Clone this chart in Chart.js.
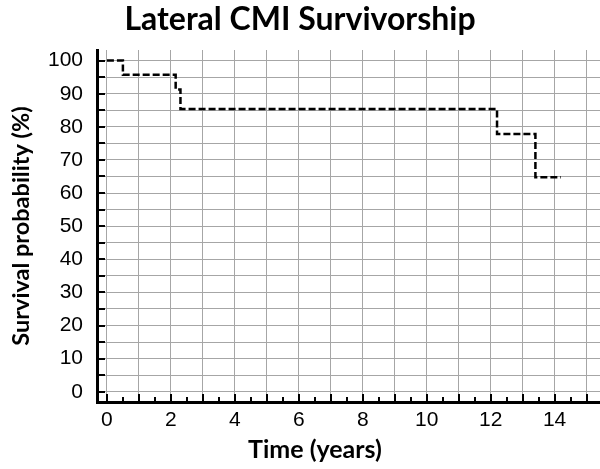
<!DOCTYPE html>
<html>
<head>
<meta charset="utf-8">
<script src="https://cdn.jsdelivr.net/npm/chart.js@4"></script>
<style>
    html, body { margin: 0; padding: 0; background: #fff; }
    #wrap { width: 600px; height: 469px; }
</style>
</head>
<body>
<div id="wrap"><canvas id="kmChart"></canvas></div>
<script>
// Datos
const timeYears = [0, 0.5, 2.15, 2.3, 12.2, 13.4, 14.2];
const survival  = [100, 95.7, 91.3, 85.4, 77.8, 64.8, 64.8];
const xTicks = [0, 1, 2, 3, 4, 5, 6, 7, 8, 9, 10, 11, 12, 13, 14, 15];
const yTicks = [0, 5, 10, 15, 20, 25, 30, 35, 40, 45, 50, 55, 60, 65, 70, 75, 80, 85, 90, 95, 100];

const labelFont = { family: "'Liberation Sans', Arial, sans-serif", size: 21 };
const boldFont = "'Lato', 'Open Sans', sans-serif";

// Marcas hacia dentro y titulos de ejes
const axisExtras = {
    id: 'axisExtras',
    afterDraw(chart) {
        const { ctx, chartArea, scales } = chart;
        const x = scales.x, y = scales.y;
        ctx.save();
        ctx.strokeStyle = '#000';
        ctx.lineWidth = 2;
        ctx.beginPath();
        yTicks.forEach(v => {
            const py = Math.round(y.getPixelForValue(v));
            ctx.moveTo(chartArea.left, py);
            ctx.lineTo(chartArea.left + 8, py);
        });
        for (let v = 0; v <= 15; v += 0.5) {
            const px = Math.round(x.getPixelForValue(v));
            const len = Number.isInteger(v) ? 8 : 5;
            ctx.moveTo(px, chartArea.bottom);
            ctx.lineTo(px, chartArea.bottom - len);
        }
        ctx.stroke();

        ctx.fillStyle = '#000';
        ctx.textAlign = 'center';
        ctx.textBaseline = 'middle';
        ctx.font = `bold 25px ${boldFont}`;
        ctx.fillText('Time (years)', 315, 450);
        ctx.translate(21, 226);
        ctx.rotate(-Math.PI / 2);
        ctx.font = `bold 23.5px ${boldFont}`;
        ctx.fillText('Survival probability (%)', 0, 0);
        ctx.restore();
    }
};

const ctx = document.getElementById('kmChart').getContext('2d');
new Chart(ctx, {
    type: 'line',
    data: {
        datasets: [{
            label: 'Lateral CMI',
            data: timeYears.map((t, i) => ({ x: t, y: survival[i] })),
            stepped: 'before',
            borderColor: '#000',
            borderWidth: 2.5,
            borderDash: [7, 3],
            pointRadius: 0,
            fill: false
        }]
    },
    options: {
        responsive: true,
        maintainAspectRatio: false,
        animation: false,
        layout: { padding: { left: 0, right: 0, top: 0, bottom: 0 } },
        plugins: {
            legend: { display: false },
            tooltip: { enabled: false },
            title: {
                display: true,
                text: 'Lateral CMI Survivorship',
                color: '#000',
                font: { family: boldFont, size: 32, weight: 'bold' },
                padding: { top: 0, bottom: 11.6 }
            }
        },
        scales: {
            x: {
                type: 'linear',
                min: -0.31,
                max: 15.42,
                afterBuildTicks: scale => { scale.ticks = xTicks.map(v => ({ value: v })); },
                afterFit: scale => { scale.height = 67; },
                ticks: {
                    color: '#000',
                    font: labelFont,
                    padding: 6,
                    maxRotation: 0,
                    autoSkip: false,
                    callback: v => (v % 2 === 0 ? String(v) : '')
                },
                grid: { color: '#a6a6a6', lineWidth: 1, drawTicks: false },
                border: { display: true, color: '#000', width: 3 }
            },
            y: {
                type: 'linear',
                min: -3.1,
                max: 103.2,
                afterBuildTicks: scale => { scale.ticks = yTicks.map(v => ({ value: v })); },
                afterFit: scale => { scale.width = 97; },
                ticks: {
                    color: '#000',
                    font: labelFont,
                    padding: 14,
                    autoSkip: false,
                    callback: v => (v % 10 === 0 ? String(v) : '')
                },
                grid: { color: '#a6a6a6', lineWidth: 1, drawTicks: false },
                border: { display: true, color: '#000', width: 3 }
            }
        }
    },
    plugins: [axisExtras]
});
</script>
</body>
</html>
